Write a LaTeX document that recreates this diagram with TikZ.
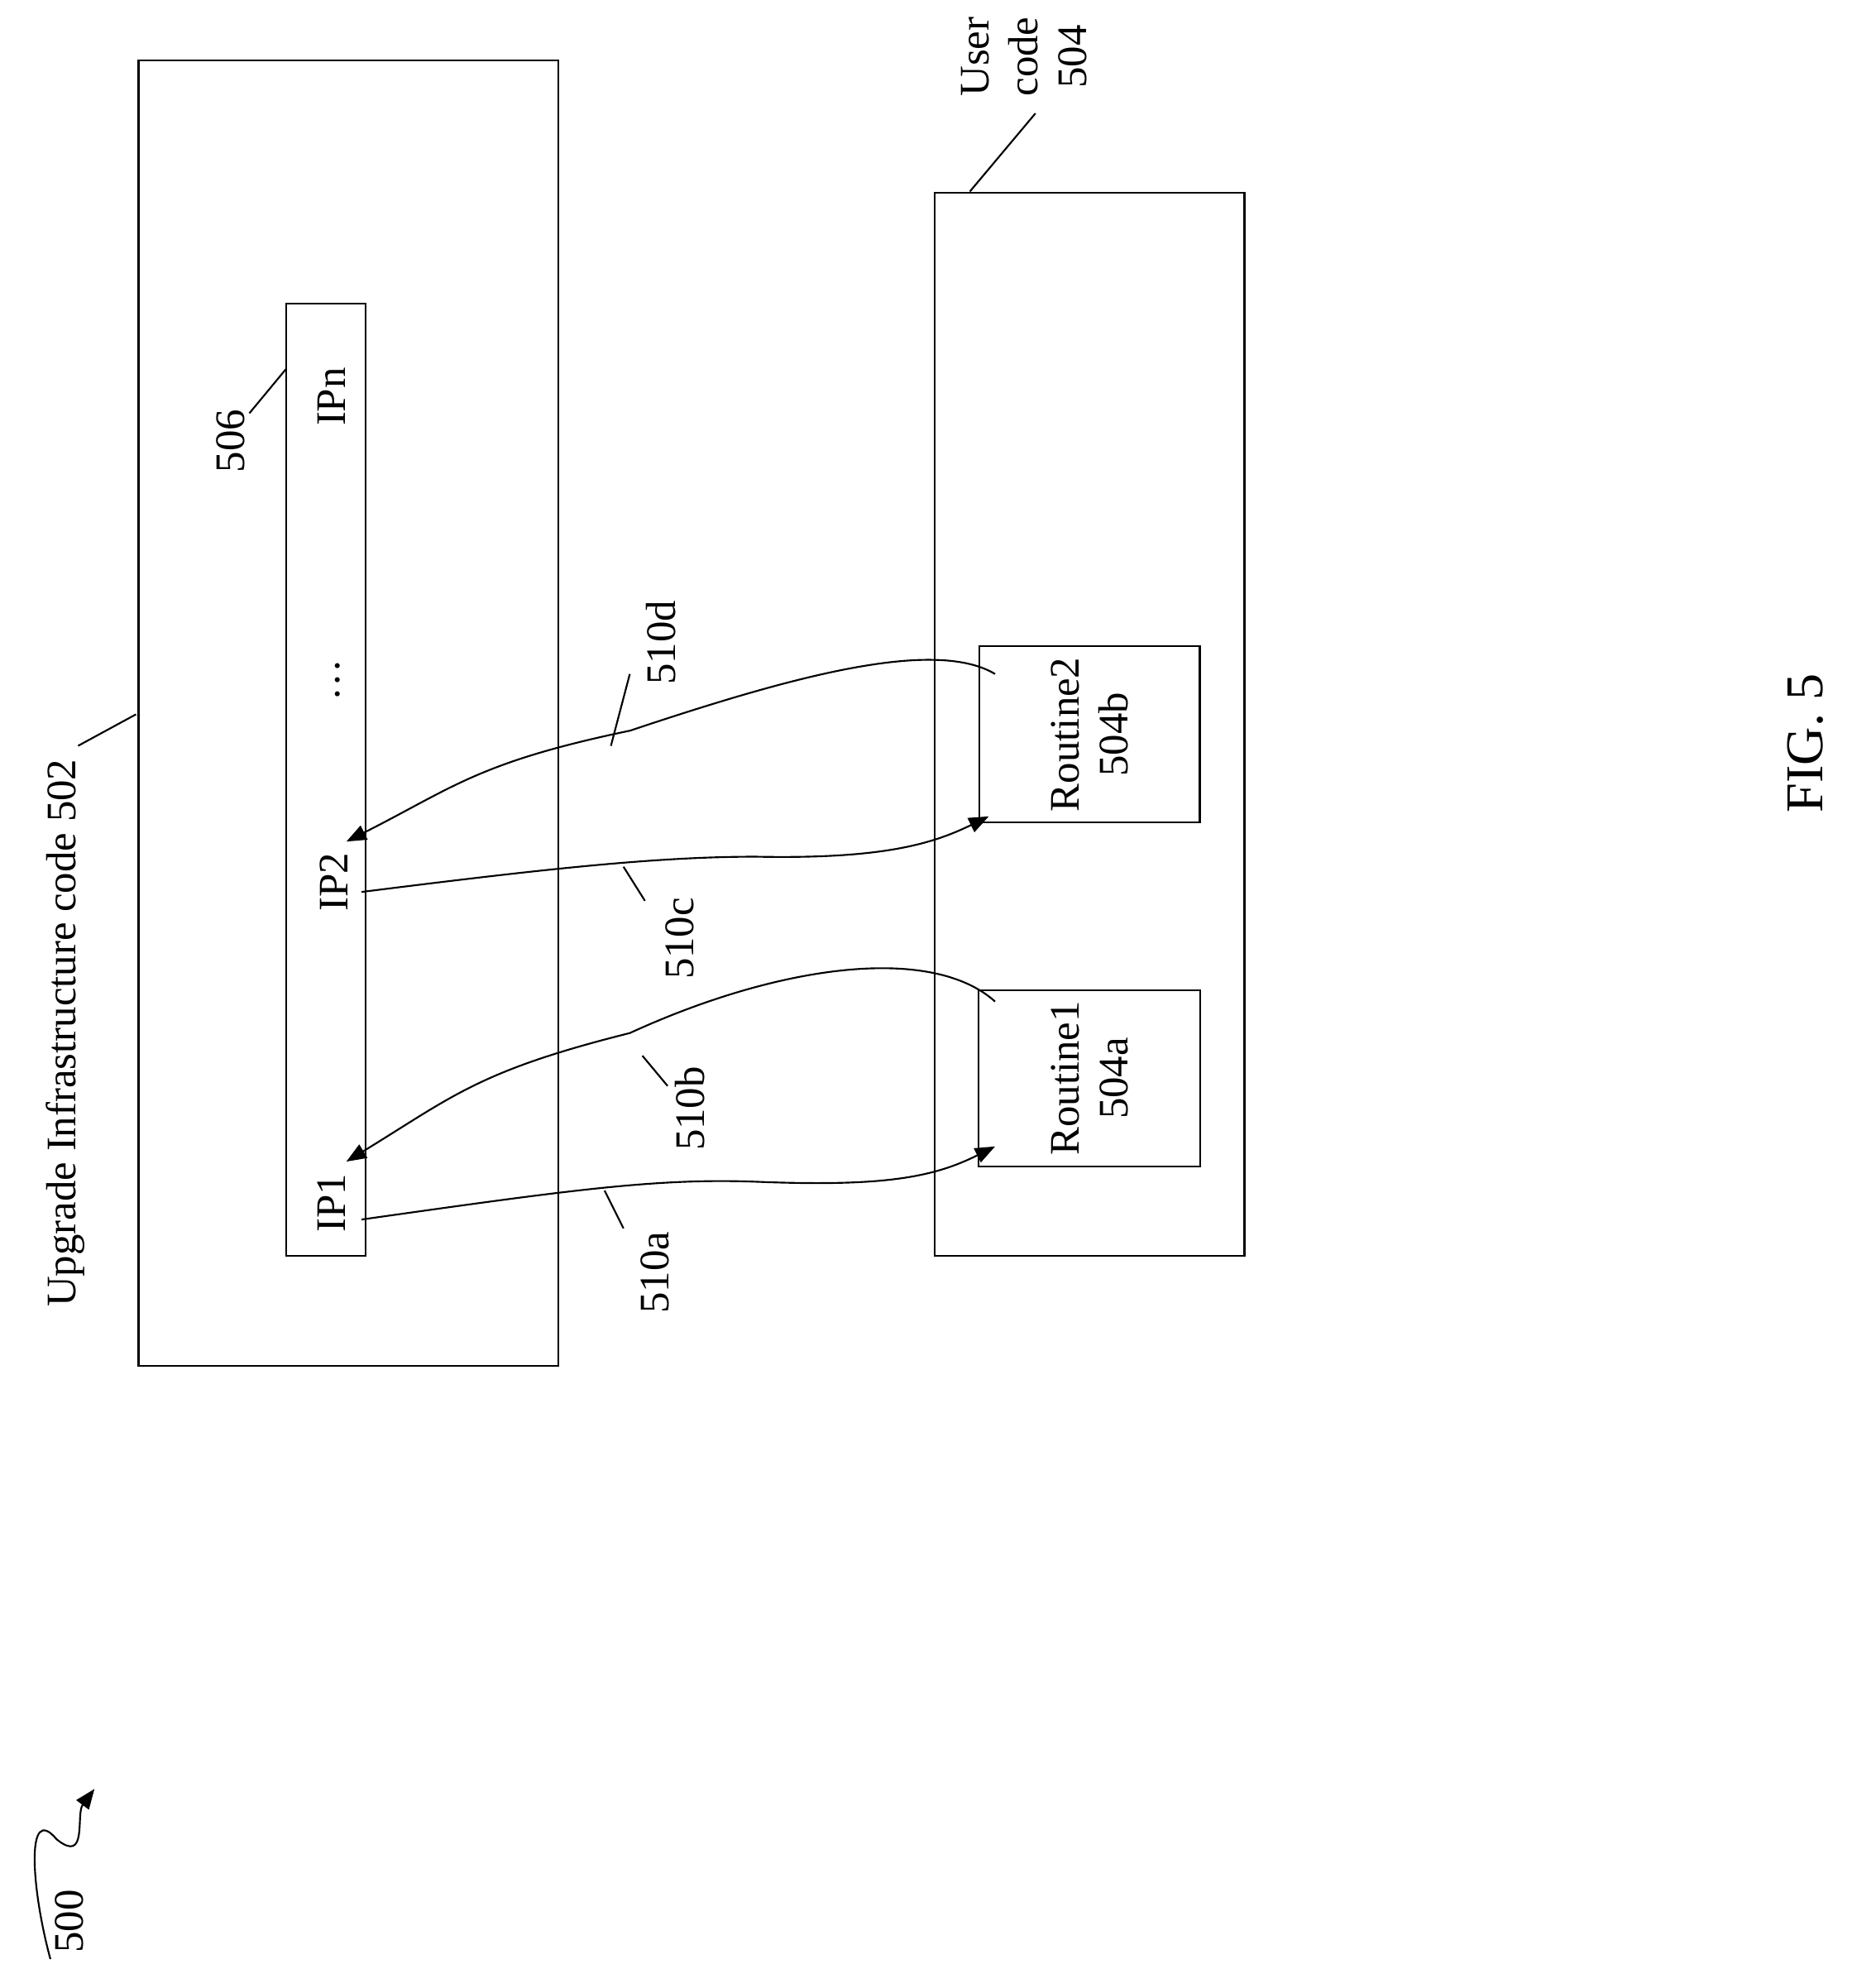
\documentclass[tikz,border=0pt]{standalone}
\usepackage{fontspec}
\setmainfont{Liberation Serif}
\usetikzlibrary{arrows.meta}
\begin{document}
\begin{tikzpicture} [x=0.02cm,y=-0.02cm,thick,font=\fontsize{19}{22}\selectfont]
\tikzstyle{box}=[draw,thick]
\tikzstyle{lbl}=[rotate=90]
\tikzstyle{flow}=[-{Triangle[length=9pt,width=7pt]}]
\useasboundingbox (0,0) rectangle (1470,1578);
% boxes
\draw[box] (110,48) rectangle (443,1084);
\draw[box] (227,241) rectangle (290,997);
\draw[box] (742,153) rectangle (988,997);
\node[box,minimum width=140*0.02cm,minimum height=175*0.02cm,align=center,lbl] (r2) at (865,583) {Routine2\\504b};
\node[box,minimum width=140*0.02cm,minimum height=176*0.02cm,align=center,lbl] (r1) at (865,856) {Routine1\\504a};
% entry points
\node[lbl] (ipn) at (263,315) {IPn};
\node[lbl] (ipd) at (268,540) {\dots};
\node[lbl] (ip2) at (265,700) {IP2};
\node[lbl] (ip1) at (263,955) {IP1};
% labels
\node[lbl] (l502) at (52,820) {Upgrade Infrastructure code 502};
\draw (62,592) -- (108,567);
\node[lbl] (l506) at (183,350) {506};
\draw (198,328) -- (227,293);
\node[lbl,align=center] (l504) at (813,45) {User\\code\\504};
\draw (770,152) -- (822,90);
% calls
\coordinate (a1) at (287,968);
\coordinate (a2) at (790,910);
\draw[flow] (a1) .. controls (450,945) and (520,935) .. (600,938) .. controls (700,942) and (740,935) .. (a2);
\coordinate (b1) at (790,795);
\coordinate (b2) at (275,922);
\draw[flow] (b1) .. controls (740,750) and (620,765) .. (500,820) .. controls (380,850) and (360,870) .. (b2);
\coordinate (c1) at (287,708);
\coordinate (c2) at (785,648);
\draw[flow] (c1) .. controls (430,690) and (520,680) .. (600,680) .. controls (700,682) and (740,670) .. (c2);
\coordinate (d1) at (790,535);
\coordinate (d2) at (275,668);
\draw[flow] (d1) .. controls (740,505) and (620,540) .. (500,580) .. controls (380,605) and (360,625) .. (d2);
\node[lbl] (l510a) at (520,1010) {510a};
\draw (480,945) -- (495,975);
\node[lbl] (l510b) at (548,880) {510b};
\draw (510,838) -- (530,862);
\node[lbl] (l510c) at (540,745) {510c};
\draw (495,688) -- (512,715);
\node[lbl] (l510d) at (525,510) {510d};
\draw (485,592) -- (500,535);
% figure reference
\node[lbl] (l500) at (55,1525) {500};
\draw[flow] (40,1555) .. controls (25,1500) and (20,1430) .. (45,1460) .. controls (70,1480) and (60,1440) .. (75,1420);
\node[lbl,font=\fontsize{24}{28}\selectfont] (fig) at (1433,590) {FIG. 5};
\end{tikzpicture}
\end{document}
